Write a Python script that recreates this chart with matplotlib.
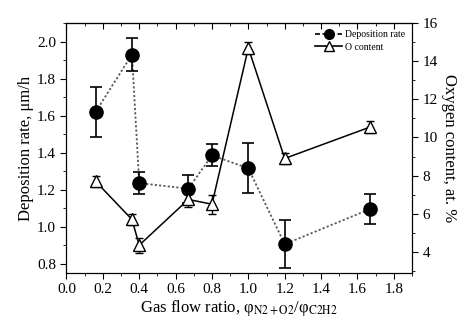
import numpy as np
import matplotlib
matplotlib.use("Agg")
from matplotlib import pyplot as plt
from matplotlib.ticker import MultipleLocator
from matplotlib.lines import Line2D

plt.rcParams['font.family'] = ['Liberation Serif', 'DejaVu Serif']
plt.rcParams['mathtext.fontset'] = 'stix'

# gas flow ratio
ratio = [0.16, 0.36, 0.40, 0.67, 0.80, 1.00, 1.20, 1.67]

# deposition rate, um/h and its error bars
dep = [1.62, 1.93, 1.235, 1.205, 1.385, 1.315, 0.905, 1.095]
dep_err = [0.135, 0.09, 0.06, 0.075, 0.06, 0.135, 0.13, 0.08]

# oxygen content, at. %
oxy = [7.7, 5.7, 4.35, 6.75, 6.5, 14.7, 8.9, 10.55]
oxy_err = [0.3, 0.3, 0.4, 0.4, 0.5, 0.3, 0.3, 0.3]

fig = plt.figure(figsize=(4.65, 3.21), dpi=100)
ax = fig.add_axes([0.143, 0.150, 0.743, 0.778])

ax.plot(ratio, dep, ls=(0, (1.2, 1.2)), color='0.35', lw=1.3)
ax.errorbar(ratio, dep, yerr=dep_err, fmt='o', color='black',
            ms=9.5, capsize=4, elinewidth=1.2, capthick=1.2)
ax.set_xlim(0, 1.9)
ax.set_ylim(0.75, 2.1)
ax.xaxis.set_major_locator(MultipleLocator(0.2))
ax.xaxis.set_minor_locator(MultipleLocator(0.1))
ax.yaxis.set_major_locator(MultipleLocator(0.2))
ax.yaxis.set_minor_locator(MultipleLocator(0.1))
ax.tick_params(which='both', direction='out', labelsize=11)
ax.tick_params(which='major', length=4)
ax.tick_params(which='minor', length=2.5)
ax.set_xlabel("Gas flow ratio, φ$_{\\mathrm{N2+O2}}$/φ$_{\\mathrm{C2H2}}$", fontsize=12, labelpad=1)
ax.set_ylabel("Deposition rate, μm/h", fontsize=12, labelpad=2)

top = ax.secondary_xaxis('top')
top.xaxis.set_major_locator(MultipleLocator(0.2))
top.xaxis.set_minor_locator(MultipleLocator(0.1))
top.tick_params(which='both', direction='in', labeltop=False)
top.tick_params(which='major', length=4)
top.tick_params(which='minor', length=2.5)

ax2 = ax.twinx()
ax2.errorbar(ratio, oxy, yerr=oxy_err, fmt='^', ls='-', color='black',
             mfc='white', ms=8.5, capsize=3, lw=1.1, elinewidth=1.0)
ax2.set_ylim(2.9, 16)
ax2.yaxis.set_minor_locator(MultipleLocator(1))
ax2.set_yticks([4, 6, 8, 10, 12, 14, 16])
ax2.tick_params(which='both', direction='out', labelsize=11)
ax2.tick_params(which='major', length=4)
ax2.tick_params(which='minor', length=2.5)
ax2.set_ylabel("Oxygen content, at. %", fontsize=12, rotation=270, labelpad=14)

h1 = Line2D([], [], color='black', ls=(0, (3, 1.5)), marker='o', ms=7, lw=1.2)
h2 = Line2D([], [], color='black', ls='-', marker='^', mfc='white', ms=7, lw=1.2)
ax2.legend([h1, h2], ['Deposition rate', 'O content'], loc='upper right',
           frameon=False, fontsize=7, handlelength=2.8,
           borderaxespad=0.3, handletextpad=0.3, labelspacing=0.4)

fig.savefig("out.png", dpi=100)
